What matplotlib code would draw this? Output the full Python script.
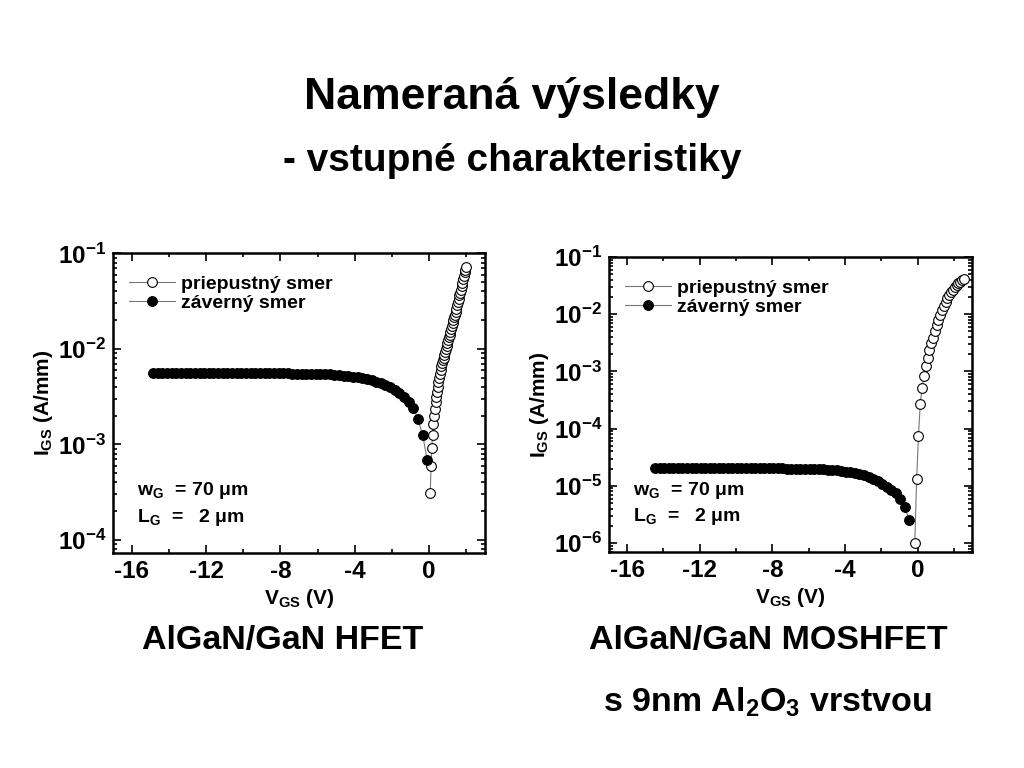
import matplotlib
matplotlib.use("Agg")
import matplotlib.pyplot as plt
from matplotlib.ticker import LogLocator, MultipleLocator, NullFormatter

plt.rcParams['font.family'] = ['Liberation Sans', 'DejaVu Sans']
plt.rcParams['font.weight'] = 'bold'
plt.rcParams['axes.labelweight'] = 'bold'
plt.rcParams['axes.unicode_minus'] = False
plt.rcParams['mathtext.fontset'] = 'custom'
plt.rcParams['mathtext.rm'] = 'Liberation Sans:bold'
plt.rcParams['mathtext.it'] = 'Liberation Sans:bold'
plt.rcParams['mathtext.bf'] = 'Liberation Sans:bold'

# --- HFET (left) ---
hfet_rev_v = [-14.85, -14.6, -14.35, -14.1, -13.85, -13.6, -13.35, -13.1, -12.85, -12.6,
              -12.35, -12.1, -11.85, -11.6, -11.35, -11.1, -10.85, -10.6, -10.35, -10.1,
              -9.85, -9.6, -9.35, -9.1, -8.85, -8.6, -8.35, -8.1, -7.85, -7.6,
              -7.35, -7.1, -6.85, -6.6, -6.35, -6.1, -5.85, -5.6, -5.35, -5.1,
              -4.85, -4.6, -4.35, -4.1, -3.85, -3.6, -3.35, -3.1, -2.85, -2.6,
              -2.35, -2.1, -1.85, -1.6, -1.35, -1.1, -0.85, -0.6, -0.35, -0.1]
hfet_rev_i = [5.55e-3, 5.55e-3, 5.55e-3, 5.55e-3, 5.55e-3, 5.55e-3, 5.55e-3, 5.55e-3, 5.55e-3, 5.55e-3,
              5.55e-3, 5.55e-3, 5.55e-3, 5.55e-3, 5.55e-3, 5.55e-3, 5.55e-3, 5.55e-3, 5.55e-3, 5.55e-3,
              5.55e-3, 5.55e-3, 5.55e-3, 5.55e-3, 5.55e-3, 5.55e-3, 5.55e-3, 5.55e-3, 5.55e-3, 5.55e-3,
              5.5e-3, 5.5e-3, 5.5e-3, 5.5e-3, 5.5e-3, 5.48e-3, 5.45e-3, 5.4e-3, 5.4e-3, 5.35e-3,
              5.3e-3, 5.25e-3, 5.2e-3, 5.1e-3, 5.05e-3, 4.95e-3, 4.85e-3, 4.7e-3, 4.55e-3, 4.4e-3,
              4.2e-3, 4.0e-3, 3.75e-3, 3.45e-3, 3.15e-3, 2.8e-3, 2.4e-3, 1.85e-3, 1.25e-3, 6.8e-4]
hfet_fwd_v = [0.06, 0.10, 0.14, 0.18, 0.22, 0.26, 0.30, 0.34, 0.38, 0.42,
              0.46, 0.50, 0.54, 0.58, 0.62, 0.66, 0.70, 0.74, 0.78, 0.82,
              0.86, 0.90, 0.94, 0.98, 1.02, 1.06, 1.10, 1.14, 1.18, 1.22,
              1.26, 1.30, 1.34, 1.38, 1.42, 1.46, 1.50, 1.54, 1.58, 1.62,
              1.66, 1.70, 1.74, 1.78, 1.82, 1.86, 1.90, 1.94, 1.98]
hfet_fwd_i = [3.1e-4, 6.0e-4, 9.1e-4, 1.26e-3, 1.62e-3, 2.0e-3, 2.34e-3, 2.75e-3, 3.16e-3, 3.55e-3,
              3.98e-3, 4.47e-3, 5.0e-3, 5.5e-3, 6.0e-3, 6.6e-3, 7.1e-3, 7.6e-3, 8.1e-3, 8.7e-3,
              9.3e-3, 1.0e-2, 1.07e-2, 1.15e-2, 1.23e-2, 1.32e-2, 1.41e-2, 1.51e-2, 1.62e-2, 1.74e-2,
              1.86e-2, 2.0e-2, 2.14e-2, 2.29e-2, 2.45e-2, 2.63e-2, 2.88e-2, 3.09e-2, 3.31e-2, 3.63e-2,
              3.89e-2, 4.17e-2, 4.57e-2, 4.9e-2, 5.37e-2, 5.75e-2, 6.31e-2, 6.76e-2, 7.24e-2]

# --- MOSHFET (right) ---
mos_rev_v = [-14.45, -14.2, -13.95, -13.7, -13.45, -13.2, -12.95, -12.7, -12.45, -12.2,
             -11.95, -11.7, -11.45, -11.2, -10.95, -10.7, -10.45, -10.2, -9.95, -9.7,
             -9.45, -9.2, -8.95, -8.7, -8.45, -8.2, -7.95, -7.7, -7.45, -7.2,
             -6.95, -6.7, -6.45, -6.2, -5.95, -5.7, -5.45, -5.2, -4.95, -4.7,
             -4.45, -4.2, -3.95, -3.7, -3.45, -3.2, -2.95, -2.7, -2.45, -2.2,
             -1.95, -1.7, -1.45, -1.2, -0.95, -0.7, -0.45]
mos_rev_i = [2.03e-5, 2.03e-5, 2.03e-5, 2.03e-5, 2.03e-5, 2.03e-5, 2.03e-5, 2.03e-5, 2.03e-5, 2.03e-5,
             2.03e-5, 2.03e-5, 2.03e-5, 2.03e-5, 2.03e-5, 2.03e-5, 2.03e-5, 2.03e-5, 2.03e-5, 2.03e-5,
             2.03e-5, 2.03e-5, 2.03e-5, 2.02e-5, 2.02e-5, 2.02e-5, 2.02e-5, 2.02e-5, 2.02e-5, 2.01e-5,
             2.01e-5, 2.01e-5, 2.01e-5, 2.0e-5, 1.99e-5, 1.98e-5, 1.96e-5, 1.94e-5, 1.92e-5, 1.89e-5,
             1.86e-5, 1.82e-5, 1.78e-5, 1.73e-5, 1.67e-5, 1.6e-5, 1.52e-5, 1.43e-5, 1.33e-5, 1.21e-5,
             1.09e-5, 9.6e-6, 8.4e-6, 7.4e-6, 5.8e-6, 4.2e-6, 2.5e-6]
mos_fwd_v = [-0.15, -0.05, 0.05, 0.15, 0.25, 0.35, 0.45, 0.55, 0.65, 0.75,
             0.85, 0.95, 1.05, 1.15, 1.25, 1.35, 1.45, 1.55, 1.65, 1.75,
             1.85, 1.95, 2.05, 2.15, 2.25, 2.35, 2.45, 2.55]
mos_fwd_i = [1.0e-6, 1.3e-5, 7.4e-5, 2.7e-4, 5.2e-4, 8.3e-4, 1.24e-3, 1.7e-3, 2.4e-3, 3.1e-3,
             3.9e-3, 5.0e-3, 6.4e-3, 7.9e-3, 9.8e-3, 1.2e-2, 1.4e-2, 1.65e-2, 1.95e-2, 2.2e-2,
             2.45e-2, 2.7e-2, 2.95e-2, 3.2e-2, 3.45e-2, 3.7e-2, 3.95e-2, 4.2e-2]

xticks = [-16, -12, -8, -4, 0]

fig = plt.figure(figsize=(10.24, 7.68), dpi=100)

fig.text(0.5, 0.873, 'Nameraná výsledky', ha='center', va='center', fontsize=32)
fig.text(0.5, 0.791, '- vstupné charakteristiky', ha='center', va='center', fontsize=28)


def panel(rect, rv, ri, fv, fi, ylim, cx, subtitle_lines):
    ax = fig.add_axes(rect)
    ax.plot(fv, fi, color='#777777', lw=0.8, marker='o', ms=7, mfc='white', mec='black',
            mew=0.8, label='priepustný smer')
    ax.plot(rv, ri, color='#777777', lw=0.8, marker='o', ms=7, mfc='black', mec='black',
            mew=0.8, label='záverný smer')
    ax.set_yscale('log')
    ax.set_xlim(-17, 3)
    ax.set_ylim(*ylim)
    ax.set_xticks(xticks)
    ax.xaxis.set_minor_locator(MultipleLocator(2))
    ax.yaxis.set_major_locator(LogLocator(base=10, numticks=20))
    ax.yaxis.set_minor_locator(LogLocator(base=10, subs=range(2, 10), numticks=20))
    ax.yaxis.set_minor_formatter(NullFormatter())
    ax.tick_params(which='both', direction='in', top=True, right=True, width=1.2)
    ax.tick_params(which='major', length=6, labelsize=17.5, pad=5)
    ax.tick_params(which='minor', length=3)
    for s in ax.spines.values():
        s.set_linewidth(1.8)
    ax.set_xlabel(r'V$_{\mathregular{GS}}$ (V)', fontsize=15, labelpad=3)
    ax.set_ylabel(r'I$_{\mathregular{GS}}$ (A/mm)', fontsize=15, labelpad=2)
    ax.legend(loc='upper left', frameon=False, fontsize=14, handlelength=2.4,
              handletextpad=0.3, borderaxespad=0.6, labelspacing=0.05,
              bbox_to_anchor=(-0.01, 0.99))
    ax.text(0.065, 0.21, r'w$_{\mathregular{G}}$  = 70 μm', transform=ax.transAxes,
            fontsize=14, va='center')
    ax.text(0.065, 0.12, r'L$_{\mathregular{G}}$  =   2 μm', transform=ax.transAxes,
            fontsize=14, va='center')
    for text, y in subtitle_lines:
        fig.text(cx, y, text, ha='center', va='center', fontsize=24.5)
    return ax


panel([0.1104, 0.2799, 0.3632, 0.3907], hfet_rev_v, hfet_rev_i, hfet_fwd_v, hfet_fwd_i,
      (7.3e-5, 0.101), 0.276, [('AlGaN/GaN HFET', 0.166)])
panel([0.5947, 0.2813, 0.3545, 0.3841], mos_rev_v, mos_rev_i, mos_fwd_v, mos_fwd_i,
      (7e-7, 0.1), 0.75, [('AlGaN/GaN MOSHFET', 0.166),
                          (r's 9nm Al$_{\mathregular{2}}$O$_{\mathregular{3}}$ vrstvou', 0.085)])

fig.savefig('out.png', dpi=100)
